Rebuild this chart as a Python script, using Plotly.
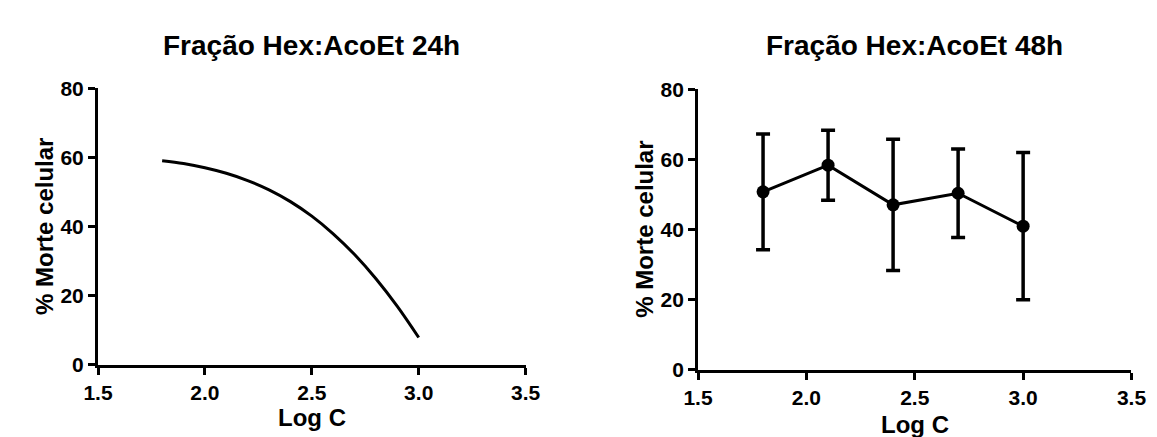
import plotly.graph_objects as go

# Left panel: fitted curve (24h)
curve_x = [1.8, 1.9, 2.0, 2.1, 2.2, 2.3, 2.4, 2.5, 2.6, 2.7, 2.8, 2.9, 3.0]
curve_y = [59.0, 58.2, 57.0, 55.4, 53.3, 50.6, 47.2, 43.0, 37.9, 31.9, 24.9, 16.9, 7.9]

# Right panel: mean +/- error (48h)
pts_x = [1.8, 2.1, 2.4, 2.7, 3.0]
pts_y = [50.7, 58.3, 47.0, 50.3, 40.9]
pts_err = [16.5, 10.0, 18.7, 12.6, 21.0]

title_left = "Fração Hex:AcoEt 24h"
title_right = "Fração Hex:AcoEt 48h"
xlabel = "Log C"
ylabel = "% Morte celular"
xticks = [1.5, 2.0, 2.5, 3.0, 3.5]
xtick_text = ["1.5", "2.0", "2.5", "3.0", "3.5"]
yticks = [0, 20, 40, 60, 80]

W, H = 1157, 437
FONT = "Liberation Sans, Arial, sans-serif"

fig = go.Figure()
fig.add_trace(go.Scatter(x=curve_x, y=curve_y, mode="lines",
                         line=dict(color="black", width=3, shape="spline", smoothing=1.0),
                         xaxis="x", yaxis="y", showlegend=False, cliponaxis=False))
fig.add_trace(go.Scatter(x=pts_x, y=pts_y, mode="lines+markers",
                         line=dict(color="black", width=3),
                         marker=dict(color="black", size=13),
                         error_y=dict(type="data", array=pts_err, visible=True,
                                      color="black", thickness=3.5, width=7),
                         xaxis="x2", yaxis="y2", showlegend=False, cliponaxis=False))

def px_x(p):
    return p / W

def px_y(p):
    return 1 - p / H

axis_common = dict(showline=True, linewidth=3, linecolor="black", ticks="outside",
                   ticklen=7, tickwidth=3, tickcolor="black", showgrid=False, zeroline=False,
                   tickfont=dict(family=FONT, size=21, color="black", weight="bold"),
                   fixedrange=True)

fig.update_layout(
    width=W, height=H,
    margin=dict(l=0, r=0, t=0, b=0),
    paper_bgcolor="white", plot_bgcolor="white",
    xaxis=dict(domain=[px_x(77), px_x(516)], range=[1.5, 3.5], tickvals=xticks,
               ticktext=xtick_text, anchor="y", **axis_common),
    yaxis=dict(domain=[px_y(364), px_y(72)], range=[0, 80], tickvals=yticks,
               anchor="x", **axis_common),
    xaxis2=dict(domain=[px_x(693), px_x(1138)], range=[1.5, 3.5], tickvals=xticks,
                ticktext=xtick_text, anchor="y2", **axis_common),
    yaxis2=dict(domain=[px_y(369), px_y(73)], range=[0, 80], tickvals=yticks,
                anchor="x2", **axis_common),
)

def ann(text, x, y, size, angle=0):
    fig.add_annotation(text=text, x=px_x(x), y=px_y(y), xref="paper", yref="paper",
                       showarrow=False, xanchor="center", yanchor="middle", textangle=angle,
                       font=dict(family=FONT, size=size, color="black", weight="bold"))

ann(title_left, 296.5, 27, 28)
ann(title_right, 915.5, 27, 28)
ann(xlabel, 296.5, 420, 24)
ann(xlabel, 915.5, 427, 24)
ann(ylabel, 22, 218, 24, -90)
ann(ylabel, 638, 221, 24, -90)

fig.write_html("out.html")
